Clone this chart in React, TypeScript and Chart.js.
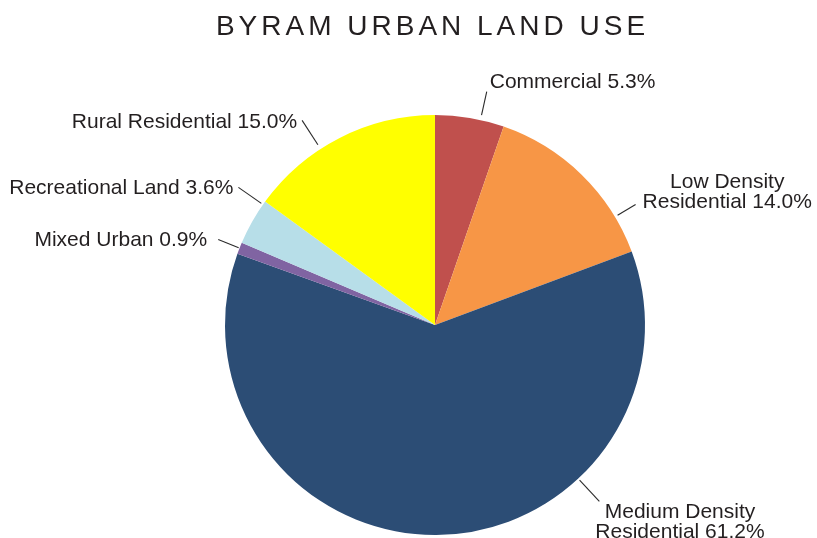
import React, { useEffect, useRef } from "react";
import { Chart, registerables } from "chart.js";

Chart.register(...registerables);

const TITLE = "BYRAM URBAN LAND USE";
const categoryLines: string[][] = [
  ["Commercial"],
  ["Low Density", "Residential"],
  ["Medium Density", "Residential"],
  ["Mixed Urban"],
  ["Recreational Land"],
  ["Rural Residential"],
];
const values = [5.3, 14.0, 61.2, 0.9, 3.6, 15.0];
const colors = ["#C0504D", "#F79646", "#2C4D75", "#8064A2", "#B7DEE8", "#FFFF00"];

// label placement (angle in degrees clockwise from 12 o'clock)
const labelLayout = [
  { angle: 12.5, r1: 5, r2: 29, dx: 3, dy: -11, align: "left" },
  { angle: 59, r1: 3, r2: 24, dx: 7, dy: -14, align: "left" },
  { angle: 137, r1: 2, r2: 31, dx: -4, dy: 19, align: "left" },
  { angle: 291.5, r1: 1, r2: 23, dx: -11, dy: -1, align: "right" },
  { angle: 305, r1: 2, r2: 30, dx: -5, dy: -1, align: "right" },
  { angle: 327, r1: 5, r2: 34, dx: -5, dy: 0, align: "right" },
];

const FONT = '"Liberation Sans", Arial, Helvetica, sans-serif';
const TEXT_COLOR = "#231F20";

const labelPlugin = {
  id: "pieLabels",
  afterDraw(chart: any) {
    const ctx = chart.ctx as CanvasRenderingContext2D;
    // title
    ctx.save();
    ctx.font = `28px ${FONT}`;
    ctx.fillStyle = TEXT_COLOR;
    (ctx as any).letterSpacing = "4px";
    ctx.textAlign = "center";
    ctx.textBaseline = "alphabetic";
    ctx.fillText(TITLE, chart.width / 2 + 24, 35);
    ctx.restore();

    const meta = chart.getDatasetMeta(0);
    ctx.save();
    ctx.font = `21px ${FONT}`;
    ctx.fillStyle = TEXT_COLOR;
    ctx.strokeStyle = "#2a2a2a";
    ctx.lineWidth = 1.1;
    (ctx as any).letterSpacing = "0px";
    meta.data.forEach((arc: any, i: number) => {
      const { x, y, outerRadius } = arc.getProps(["x", "y", "outerRadius"], true);
      const L = labelLayout[i];
      const a = ((L.angle - 90) * Math.PI) / 180;
      const x1 = x + (outerRadius + L.r1) * Math.cos(a);
      const y1 = y + (outerRadius + L.r1) * Math.sin(a);
      const x2 = x + (outerRadius + L.r2) * Math.cos(a);
      const y2 = y + (outerRadius + L.r2) * Math.sin(a);
      ctx.beginPath();
      ctx.moveTo(x1, y1);
      ctx.lineTo(x2, y2);
      ctx.stroke();

      const lines = categoryLines[i].slice();
      lines[lines.length - 1] = `${lines[lines.length - 1]} ${values[i].toFixed(1)}%`;
      const maxW = Math.max(...lines.map((l) => ctx.measureText(l).width));
      const lh = 20;
      const cy = y2 + L.dy;
      const cx = L.align === "left" ? x2 + L.dx + maxW / 2 : x2 + L.dx - maxW / 2;
      ctx.textAlign = "center";
      ctx.textBaseline = "alphabetic";
      lines.forEach((line, j) => {
        const ly = cy - ((lines.length - 1) * lh) / 2 + j * lh + 7.5;
        ctx.fillText(line, cx, ly);
      });
    });
    ctx.restore();
  },
};

export default function App() {
  const ref = useRef<HTMLCanvasElement | null>(null);
  useEffect(() => {
    if (!ref.current) return;
    const chart = new Chart(ref.current, {
      type: "pie",
      data: {
        labels: categoryLines.map((l) => l.join(" ")),
        datasets: [
          {
            data: values,
            backgroundColor: colors,
            borderWidth: 0,
            radius: 210,
          } as any,
        ],
      },
      options: {
        responsive: false,
        animation: false,
        layout: { padding: { left: 225, right: 172, top: 115, bottom: 3 } },
        plugins: {
          legend: { display: false },
          tooltip: { enabled: false },
          title: { display: false },
        },
      },
      plugins: [labelPlugin],
    });
    return () => chart.destroy();
  }, []);
  return (
    <div style={{ position: "absolute", left: 0, top: 0, width: 817, height: 538, background: "#fff" }}>
      <canvas ref={ref} width={817} height={538} style={{ display: "block" }} />
    </div>
  );
}
